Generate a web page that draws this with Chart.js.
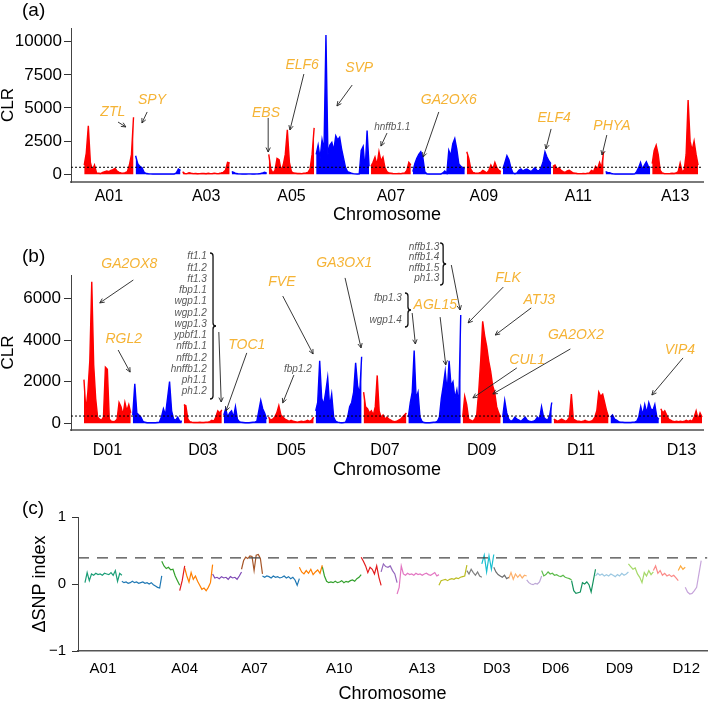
<!DOCTYPE html>
<html>
<head>
<meta charset="utf-8">
<script src="https://cdn.jsdelivr.net/npm/chart.js@4.4.1/dist/chart.umd.min.js"></script>
<style>
  html, body { margin: 0; padding: 0; background: #fff; width: 709px; height: 701px; overflow: hidden; }
  #wrap { position: relative; width: 709px; height: 701px; }
  canvas { position: absolute; left: 0; }
  .tag { position: absolute; left: 22px; font: 19px "Liberation Sans", Arial, sans-serif; color: #000; }
</style>
</head>
<body>
<div id="wrap">
  <canvas id="ca" width="709" height="232" style="top:0"></canvas>
  <canvas id="cb" width="709" height="250" style="top:232px"></canvas>
  <canvas id="cc" width="709" height="225" style="top:482px"></canvas>
  <div class="tag" style="top:-1px">(a)</div>
  <div class="tag" style="top:245px">(b)</div>
  <div class="tag" style="top:497px">(c)</div>
</div>
<script>
/* ------------------------------------------------------------------ */
/*  Data                                                               */
/* ------------------------------------------------------------------ */

// chromosome sizes (Mb)
var aNames = ["A01", "A02", "A03", "A04", "A05", "A06", "A07", "A08", "A09", "A10", "A11", "A12", "A13"];
var aLens  = [118, 108, 113, 85, 109, 126, 96, 124, 83, 115, 121, 107, 110];
var dNames = ["D01", "D02", "D03", "D04", "D05", "D06", "D07", "D08", "D09", "D10", "D11", "D12", "D13"];
var dLens  = [61, 64, 50, 56, 59, 60, 56, 68, 50, 64, 71, 63, 54];

// CLR along each chromosome, evenly spaced windows
var clrA = [
  [700, 1600, 3650, 900, 300, 700, 100, 80, 60, 150, 200, 250, 200, 300, 350, 450, 250, 150, 100, 80, 120, 200, 700, 1500, 4300],
  [1400, 800, 600, 500, 150, 60, 40, 30, 20, 20, 20, 20, 20, 20, 20, 20, 30, 20, 20, 100, 400, 300],
  [200, 60, 50, 120, 80, 50, 60, 40, 50, 70, 60, 40, 80, 50, 60, 90, 50, 60, 100, 150, 300, 900, 850],
  [200, 150, 60, 40, 30, 20, 20, 20, 30, 30, 20, 20, 30, 40, 60, 100, 150, 80],
  [1500, 400, 100, 300, 1200, 1100, 300, 700, 1500, 3350, 900, 200, 100, 80, 60, 60, 50, 80, 100, 150, 400, 1500, 3500],
  [1500, 2200, 1200, 2600, 1800, 10500, 1500, 2200, 2400, 1800, 2900, 2600, 2800, 1900, 1200, 500, 200, 150, 80, 50, 30, 20, 40, 1800, 2100, 300, 3300, 600],
  [600, 900, 1300, 700, 1700, 1000, 1300, 500, 200, 100, 80, 60, 50, 50, 60, 50, 80, 100, 300, 900, 700],
  [200, 800, 1200, 1500, 1700, 1300, 200, 40, 20, 20, 20, 20, 20, 20, 20, 100, 250, 80, 1800, 1400, 2300, 2700, 1900, 800, 600, 500, 400],
  [1700, 1200, 400, 150, 100, 80, 100, 150, 300, 200, 100, 300, 700, 400, 900, 500, 300, 200],
  [400, 900, 1400, 1100, 500, 100, 50, 100, 300, 400, 250, 350, 400, 300, 200, 350, 500, 300, 250, 500, 900, 1700, 1300, 1000, 800],
  [600, 700, 400, 500, 300, 200, 150, 250, 300, 200, 100, 80, 60, 50, 50, 60, 50, 80, 100, 300, 200, 600, 400, 900, 500, 1700],
  [200, 150, 120, 60, 30, 20, 20, 20, 20, 20, 20, 20, 20, 20, 20, 30, 200, 500, 900, 400, 700, 950, 600, 500],
  [800, 1800, 2200, 1500, 300, 100, 60, 50, 50, 60, 80, 60, 100, 200, 850, 200, 300, 1500, 5600, 2500, 1800, 2500, 1500, 700]
];
var clrD = [
  [2100, 600, 1500, 3000, 6800, 2800, 1200, 300, 200, 150, 300, 2700, 2600, 200, 100, 80, 100, 200, 1000, 800, 400, 1000, 600, 900, 500],
  [400, 1900, 500, 400, 300, 100, 50, 30, 30, 30, 30, 30, 40, 50, 300, 700, 400, 1200, 2000, 600, 200, 150, 300, 100, 100],
  [900, 850, 200, 80, 50, 40, 40, 40, 50, 40, 40, 50, 60, 80, 150, 100, 300, 600, 500, 650],
  [400, 700, 300, 500, 600, 300, 800, 200, 80, 50, 40, 30, 30, 30, 40, 50, 60, 100, 600, 1100, 700, 500, 200],
  [300, 150, 200, 300, 500, 850, 400, 300, 200, 150, 100, 150, 100, 80, 60, 80, 100, 80, 100, 150, 100, 150, 300],
  [600, 1000, 3000, 1200, 900, 1500, 2200, 800, 1400, 300, 100, 60, 40, 30, 40, 60, 300, 800, 1000, 1500, 2900, 1800, 1400, 3200],
  [1500, 800, 700, 500, 600, 400, 800, 2300, 600, 300, 400, 200, 300, 200, 150, 100, 80, 100, 150, 200, 300, 400, 500],
  [300, 1000, 1500, 3500, 1200, 1500, 300, 100, 40, 30, 30, 30, 40, 50, 60, 100, 300, 1200, 1800, 2500, 1500, 3000, 1800, 2000, 1200, 1600, 900, 5200],
  [300, 1300, 900, 200, 150, 100, 200, 400, 1500, 3000, 4900, 4200, 3700, 3000, 2500, 1800, 1500, 800, 500, 300],
  [300, 1100, 500, 200, 100, 150, 300, 200, 150, 100, 200, 300, 150, 100, 80, 100, 150, 300, 200, 800, 300, 200, 150, 400, 1000],
  [200, 150, 100, 150, 200, 150, 100, 150, 300, 1400, 200, 150, 100, 100, 80, 100, 150, 100, 80, 100, 150, 300, 600, 1500, 1300, 1400, 1000, 600, 300],
  [300, 400, 200, 150, 80, 60, 50, 40, 40, 40, 40, 50, 60, 100, 300, 800, 400, 900, 500, 1000, 700, 600, 900, 300, 200],
  [700, 500, 600, 400, 200, 150, 100, 80, 100, 80, 100, 80, 100, 150, 100, 150, 100, 300, 600, 200, 500, 300]
];
var aTickNames = ["A01", "A03", "A05", "A07", "A09", "A11", "A13"];
var dTickNames = ["D01", "D03", "D05", "D07", "D09", "D11", "D13"];
var clrTicksA = [0, 2500, 5000, 7500, 10000];
var clrTicksD = [0, 2000, 4000, 6000];
var clrCutA = 530;
var clrCutD = 350;

// gene labels: [text, textX, textY, arrowFromX, arrowFromY, arrowToX, arrowToY] in Mb / CLR
var aGenes = [
  ["ZTL", 68, 4700, 80, 3940, 98, 3570],
  ["SPY", 158, 5600, 147, 4700, 135, 3870],
  ["EBS", 420, 4620, 425, 4250, 425, 1680],
  ["ELF6", 503, 8240, 507, 7560, 475, 3340],
  ["SVP", 634, 8010, 618, 6730, 583, 5150],
  ["GA2OX6", 840, 5600, 817, 4700, 781, 1300],
  ["ELF4", 1082, 4250, 1075, 3420, 1063, 1910],
  ["PHYA", 1215, 3640, 1203, 2960, 1192, 1455]
];
var aLoci = [["hnffb1.1", 710, 3570, 698, 3110, 684, 2130]];

var dGenes = [
  ["GA2OX8", 58, 7650, 63, 6880, 21, 5780],
  ["RGL2", 51, 4050, 44, 3520, 59, 2460],
  ["TOC1", 205, 3760, 205, 3380, 179, 590],
  ["FVE", 249, 6780, 250, 6110, 288, 3330],
  ["GA3OX1", 327, 7700, 328, 6980, 348, 3620],
  ["AGL15", 441, 5680, 447, 5100, 454, 2800],
  ["FLK", 532, 6980, 526, 6540, 482, 4820],
  ["ATJ3", 571, 5920, 561, 5540, 516, 4240],
  ["GA2OX2", 617, 4240, 610, 3570, 513, 1410],
  ["CUL1", 556, 3040, 543, 2660, 488, 1220],
  ["VIP4", 747, 3520, 751, 3140, 712, 1360]
];
var dLoci = [["fbp1.2", 269, 2610, 264, 2320, 250, 980]];
var dLists = [
  { names: ["ft1.1", "ft1.2", "ft1.3", "fbp1.1", "wgp1.1", "wgp1.2", "wgp1.3", "ypbf1.1", "nffb1.1", "nffb1.2", "hnffb1.2", "ph1.1", "ph1.2"],
    x: 155, y: 8000, brace: [159, 8176, 1168], arrow: [170, 4384, 173, 1024] },
  { names: ["fbp1.3", "", "wgp1.4"],
    x: 399, y: 6016, brace: [403, 6256, 4624], arrow: [412, 5296, 416, 3808] },
  { names: ["nffb1.3", "nffb1.4", "nffb1.5", "ph1.3"],
    x: 446, y: 8464, brace: [447, 8656, 6640], arrow: [461, 7600, 472, 5440] }
];

// ΔSNP index per chromosome (windows along each, width = number of windows)
var snpNames = aNames.concat(dNames);
var snpSpan = [37, 40, 18, 5, 28, 29, 21, 37, 23, 39, 20, 16, 42, 28, 15, 12, 15, 18, 15, 30, 24, 33, 25, 25, 7, 16];
var snpVals = [
  [0.02, 0.17, 0.05, 0.15, 0.13, 0.16, 0.14, 0.15, 0.13, 0.16, 0.15, 0.14, 0.17, 0.13, 0.20, 0.04, 0.16, 0.13],
  [0.04, 0.02, 0.03, 0.01, 0.02, 0.04, 0.02, 0.03, 0.01, 0.02, 0.03, 0.01, 0.02, 0.00, 0.02, -0.01, -0.03, -0.05, -0.06, 0.12],
  [0.34, 0.27, 0.23, 0.25, 0.21, 0.22, 0.12, 0.05, -0.02],
  [-0.10, 0.05, 0.27],
  [0.24, 0.12, 0.03, 0.17, 0.07, 0.12, 0.04, -0.02, -0.08, -0.06, -0.10, -0.05, 0.02, 0.29],
  [0.15, 0.09, 0.10, 0.08, 0.11, 0.09, 0.10, 0.07, 0.11, 0.09, 0.10, 0.07, 0.12, 0.18],
  [0.22, 0.35, 0.40, 0.38, 0.42, 0.41, 0.20, 0.43, 0.44, 0.38, 0.15],
  [0.12, 0.10, 0.12, 0.11, 0.09, 0.12, 0.10, 0.11, 0.09, 0.10, 0.12, 0.09, 0.11, 0.08, 0.10, 0.06, -0.02, 0.08],
  [0.25, 0.18, 0.15, 0.20, 0.16, 0.22, 0.14, 0.18, 0.21, 0.16, 0.28],
  [0.26, 0.12, 0.04, 0.02, 0.03, 0.02, 0.04, 0.02, 0.03, 0.05, 0.02, 0.04, 0.03, 0.05, 0.06, 0.04, 0.08, 0.10, 0.14],
  [0.40, 0.34, 0.27, 0.17, 0.25, 0.22, 0.15, 0.27, 0.10, -0.02],
  [0.18, 0.30, 0.26, 0.25, 0.27, 0.20, 0.15, 0.02],
  [-0.15, -0.05, 0.27, 0.15, 0.13, 0.16, 0.14, 0.15, 0.13, 0.16, 0.14, 0.15, 0.13, 0.15, 0.16, 0.14, 0.13, 0.15, 0.17, 0.12, 0.14],
  [-0.02, 0.05, 0.06, 0.07, 0.05, 0.07, 0.08, 0.07, 0.09, 0.08, 0.10, 0.11, 0.12, 0.28],
  [0.20, 0.15, 0.22, 0.17, 0.13, 0.18, 0.12, 0.10],
  [0.30, 0.43, 0.18, 0.42, 0.22, 0.44],
  [0.25, 0.18, 0.14, 0.12, 0.10, 0.13, 0.08, 0.10],
  [0.08, 0.17, 0.07, 0.15, 0.10, 0.14, 0.09, 0.13, 0.12],
  [0.06, 0.02, 0.00, -0.01, 0.01, 0.00, 0.03, 0.12],
  [0.20, 0.12, 0.14, 0.18, 0.15, 0.16, 0.13, 0.14, 0.12, 0.11, 0.13, 0.10, 0.09, 0.08, 0.06],
  [0.05, -0.10, -0.14, -0.13, -0.12, 0.02, 0.00, 0.03, -0.01, -0.12, 0.05, 0.22],
  [0.12, 0.16, 0.13, 0.15, 0.12, 0.14, 0.12, 0.15, 0.13, 0.11, 0.14, 0.12, 0.16, 0.13, 0.15, 0.18],
  [0.30, 0.26, 0.22, 0.24, 0.15, 0.10, 0.02, 0.17, 0.12, 0.20, 0.14, 0.18],
  [0.20, 0.27, 0.16, 0.20, 0.13, 0.16, 0.12, 0.14, 0.11, 0.13, 0.09, 0.05],
  [0.20, 0.27, 0.22, 0.25],
  [-0.05, -0.12, -0.15, -0.14, -0.10, -0.05, 0.15, 0.35]
];
var snpTickNames = ["A01", "A04", "A07", "A10", "A13", "D03", "D06", "D09", "D12"];
var snpTickPos   = [18, 100, 170, 255, 338, 413, 472, 536, 603];
var snpTicks = [-1, 0, 1];
var snpCut = 0.39;

/* ------------------------------------------------------------------ */
/*  Palette                                                            */
/* ------------------------------------------------------------------ */

var FONT = '"Liberation Sans", Arial, Helvetica, sans-serif';
var RED = "#FF0000", BLUE = "#0000FF";
var GENE = "#F5B335", LOCUS = "#595959";
var snpColors = [
  "#1B9E77", "#1F78B4", "#33A02C", "#E31A1C", "#FF7F00", "#7E48B5", "#A65628",
  "#1F78B4", "#FF7F00", "#33A02C", "#E31A1C", "#9467BD", "#E377C2",
  "#BCBD22", "#7F7F7F", "#17BECF", "#6E6E6E", "#FDB06B", "#BCA6D6", "#5DBB4C",
  "#13925E", "#9DC9E2", "#A6D96A", "#FB8A88", "#FDAA3E", "#C7A5DB"
];

Chart.defaults.font.family = FONT;
Chart.defaults.color = "#000";

/* ------------------------------------------------------------------ */
/*  Helpers                                                            */
/* ------------------------------------------------------------------ */

function centers(lens) {
  var s = 0;
  return lens.map(function (l) { var c = s + l / 2; s += l; return c; });
}

function pickTicks(names, allNames, lens) {
  var c = centers(lens);
  return names.map(function (n) { return c[allNames.indexOf(n)]; });
}

function clrSets(lens, vals) {
  var sets = [], start = 0;
  lens.forEach(function (len, k) {
    var v = vals[k], n = v.length, col = k % 2 ? BLUE : RED;
    sets.push({
      data: v.map(function (y, i) { return { x: start + (i + 0.5) * len / n, y: y }; }),
      showLine: true, borderColor: col, backgroundColor: col, borderWidth: 1.4,
      pointRadius: 0, fill: "origin", tension: 0
    });
    start += len;
  });
  return sets;
}

function snpSets() {
  var sets = [], start = 0;
  snpSpan.forEach(function (len, k) {
    var v = snpVals[k], n = v.length;
    sets.push({
      data: v.map(function (y, i) { return { x: start + i * len / (n - 1), y: y }; }),
      showLine: true, borderColor: snpColors[k], borderWidth: 1.2,
      pointRadius: 0, fill: false, tension: 0
    });
    start += len;
  });
  return sets;
}

function arrow(ctx, x1, y1, x2, y2) {
  var a = Math.atan2(y2 - y1, x2 - x1), h = 5, s = 0.45;
  ctx.beginPath();
  ctx.moveTo(x1, y1);
  ctx.lineTo(x2, y2);
  ctx.moveTo(x2 - h * Math.cos(a - s), y2 - h * Math.sin(a - s));
  ctx.lineTo(x2, y2);
  ctx.lineTo(x2 - h * Math.cos(a + s), y2 - h * Math.sin(a + s));
  ctx.stroke();
}

function brace(ctx, x, y1, y2) {
  var w = 3, ym = (y1 + y2) / 2;
  ctx.beginPath();
  ctx.moveTo(x, y1);
  ctx.quadraticCurveTo(x + w, y1, x + w, y1 + w);
  ctx.lineTo(x + w, ym - w);
  ctx.quadraticCurveTo(x + w, ym, x + 2 * w, ym);
  ctx.quadraticCurveTo(x + w, ym, x + w, ym + w);
  ctx.lineTo(x + w, y2 - w);
  ctx.quadraticCurveTo(x + w, y2, x, y2);
  ctx.stroke();
}

// threshold line, gene labels, arrows and braces
var notes = {
  id: "notes",
  afterDatasetsDraw: function (chart, args, o) {
    var ctx = chart.ctx, xs = chart.scales.x, ys = chart.scales.y, area = chart.chartArea;
    function X(v) { return xs.getPixelForValue(v); }
    function Y(v) { return ys.getPixelForValue(v); }
    ctx.save();
    if (o.cut !== undefined) {
      ctx.strokeStyle = o.cutColor;
      ctx.lineWidth = o.cutWidth;
      ctx.setLineDash(o.cutDash);
      ctx.beginPath();
      ctx.moveTo(area.left, Y(o.cut));
      ctx.lineTo(area.right, Y(o.cut));
      ctx.stroke();
      ctx.setLineDash([]);
    }
    ctx.strokeStyle = "#222";
    ctx.lineWidth = 0.9;
    ctx.textAlign = "center";
    ctx.textBaseline = "middle";
    (o.genes || []).forEach(function (g) {
      ctx.font = "italic 14px " + FONT;
      ctx.fillStyle = GENE;
      ctx.fillText(g[0], X(g[1]), Y(g[2]));
      arrow(ctx, X(g[3]), Y(g[4]), X(g[5]), Y(g[6]));
    });
    (o.loci || []).forEach(function (g) {
      ctx.font = "italic 10px " + FONT;
      ctx.fillStyle = LOCUS;
      ctx.fillText(g[0], X(g[1]), Y(g[2]));
      arrow(ctx, X(g[3]), Y(g[4]), X(g[5]), Y(g[6]));
    });
    (o.lists || []).forEach(function (L) {
      var y1 = Y(L.brace[1]), y2 = Y(L.brace[2]);
      var step = (y2 - y1) / L.names.length;
      ctx.font = "italic 10px " + FONT;
      ctx.fillStyle = LOCUS;
      ctx.textAlign = "right";
      L.names.forEach(function (n, i) { ctx.fillText(n, X(L.x), Y(L.y) + i * step); });
      ctx.textAlign = "center";
      ctx.lineWidth = 1.3;
      ctx.strokeStyle = "#111";
      brace(ctx, X(L.brace[0]), y1, y2);
      ctx.lineWidth = 0.9;
      ctx.strokeStyle = "#222";
      arrow(ctx, X(L.arrow[0]), Y(L.arrow[1]), X(L.arrow[2]), Y(L.arrow[3]));
    });
    ctx.restore();
  }
};

function fixedTicks(list) {
  return function (s) { s.ticks = list.map(function (v) { return { value: v }; }); };
}

function axes(p) {
  return {
    x: {
      type: "linear", min: p.xMin, max: p.xMax,
      afterBuildTicks: fixedTicks(p.xTicks),
      afterFit: function (s) { s.height = p.xh; },
      ticks: { autoSkip: false, maxRotation: 0, minRotation: 0, padding: p.xPad, color: "#000",
               font: { size: p.xFont }, callback: function (v, i) { return p.xNames[i]; } },
      grid: { display: false, drawTicks: false },
      border: { display: true, color: p.xLine, width: p.xLineW },
      title: { display: true, text: "Chromosome", color: "#000", font: { size: 18 },
               padding: { top: 0, bottom: p.titlePad } }
    },
    y: {
      type: "linear", min: p.yMin, max: p.yMax,
      afterBuildTicks: fixedTicks(p.yTicks),
      afterFit: function (s) { s.width = p.yw; },
      ticks: { padding: p.yPad, color: "#000", font: { size: p.yFont },
               callback: function (v) { return v < 0 ? "\u2212" + Math.abs(v) : String(v); } },
      grid: { display: true, drawOnChartArea: false, drawTicks: true, tickLength: p.tickLen,
              color: "#333", lineWidth: 1 },
      border: { display: true, color: "#444", width: 1 },
      title: { display: true, text: p.yTitle, color: "#000", font: { size: p.yTitleSize, lineHeight: 1 },
               padding: { top: 0, bottom: 0 } }
    }
  };
}

function base(padding, scales, noteOpts) {
  return {
    responsive: false, animation: false, devicePixelRatio: 1,
    layout: { padding: padding },
    plugins: { legend: { display: false }, tooltip: { enabled: false }, notes: noteOpts },
    scales: scales
  };
}

/* ------------------------------------------------------------------ */
/*  Panel (a)                                                          */
/* ------------------------------------------------------------------ */

new Chart(document.getElementById("ca"), {
  type: "scatter",
  data: { datasets: clrSets(aLens, clrA) },
  options: base({ top: 28, right: 6, left: 0, bottom: 0 }, axes({
    xMin: -28, xMax: 1424, xTicks: pickTicks(aTickNames, aNames, aLens), xNames: aTickNames,
    xh: 50, xPad: 5, xFont: 16, xLine: "#7a7a7a", xLineW: 2, titlePad: 6,
    yMin: -580, yMax: 11030, yTicks: clrTicksA, yw: 71, yPad: 2, yFont: 17, tickLen: 7,
    yTitle: "CLR", yTitleSize: 17
  }), { cut: clrCutA, cutColor: "#000", cutWidth: 1, cutDash: [2, 2], genes: aGenes, loci: aLoci }),
  plugins: [notes]
});

/* ------------------------------------------------------------------ */
/*  Panel (b)                                                          */
/* ------------------------------------------------------------------ */

new Chart(document.getElementById("cb"), {
  type: "scatter",
  data: { datasets: clrSets(dLens, clrD) },
  options: base({ top: 43, right: 6, left: 0, bottom: 0 }, axes({
    xMin: -15, xMax: 776, xTicks: pickTicks(dTickNames, dNames, dLens), xNames: dTickNames,
    xh: 52, xPad: 11, xFont: 16, xLine: "#7a7a7a", xLineW: 2, titlePad: 1,
    yMin: -320, yMax: 7120, yTicks: clrTicksD, yw: 71, yPad: 3, yFont: 17, tickLen: 7,
    yTitle: "CLR", yTitleSize: 17
  }), { cut: clrCutD, cutColor: "#000", cutWidth: 1, cutDash: [2, 2], genes: dGenes, loci: dLoci, lists: dLists }),
  plugins: [notes]
});

/* ------------------------------------------------------------------ */
/*  Panel (c)                                                          */
/* ------------------------------------------------------------------ */

new Chart(document.getElementById("cc"), {
  type: "scatter",
  data: { datasets: snpSets() },
  options: base({ top: 35, right: 0, left: 31, bottom: 0 }, axes({
    xMin: -7, xMax: 624, xTicks: snpTickPos, xNames: snpTickNames,
    xh: 56, xPad: 9, xFont: 15, xLine: "#555", xLineW: 1.5, titlePad: 2,
    yMin: -1, yMax: 1, yTicks: snpTicks, yw: 47, yPad: 6, yFont: 15, tickLen: 6,
    yTitle: "\u0394SNP index", yTitleSize: 18
  }), { cut: snpCut, cutColor: "#444", cutWidth: 1.2, cutDash: [11, 8] }),
  plugins: [notes]
});
</script>
</body>
</html>
